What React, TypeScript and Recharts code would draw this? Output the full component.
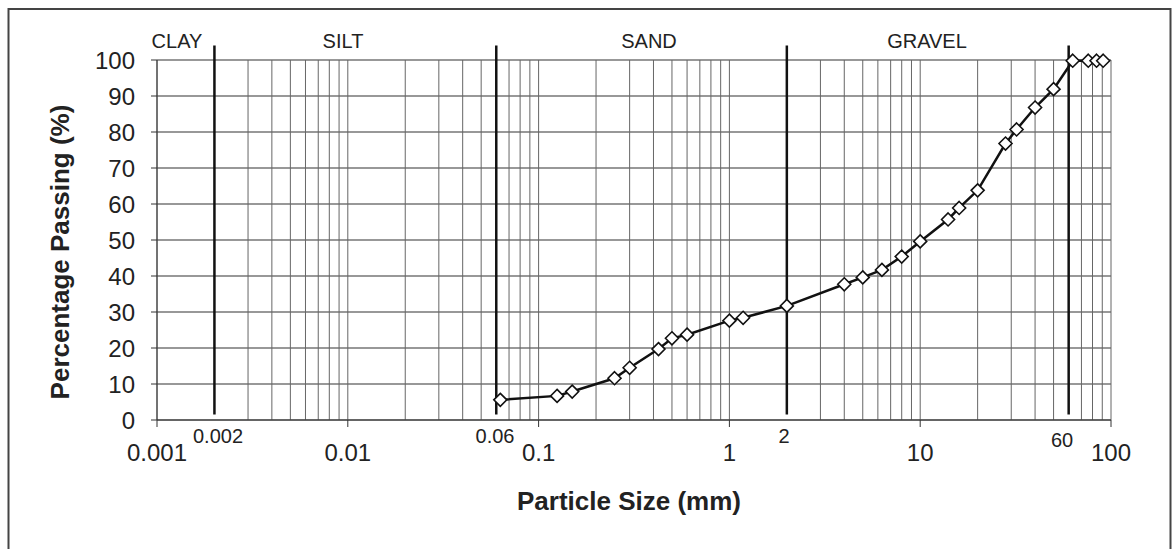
import React from 'react'
import { ComposedChart, Line, XAxis, YAxis, CartesianGrid, ReferenceLine } from 'recharts'

const sieveSizes = [0.063, 0.125, 0.15, 0.25, 0.3, 0.425, 0.5, 0.6, 1.0, 1.18, 2.0, 4.0, 5.0, 6.3, 8.0, 10, 14, 16, 20, 28, 32, 40, 50, 63, 76, 84, 91]
const passing = [5.6, 6.7, 7.9, 11.6, 14.5, 19.7, 22.7, 23.7, 27.6, 28.4, 31.7, 37.7, 39.6, 41.7, 45.4, 49.6, 55.7, 58.9, 63.8, 76.8, 80.7, 86.8, 91.9, 99.8, 99.8, 99.8, 99.8]

const xTicks = [0.001, 0.01, 0.1, 1, 10, 100]
const yTicks = [0, 10, 20, 30, 40, 50, 60, 70, 80, 90, 100]
const decades = [0.001, 0.01, 0.1, 1, 10]
const multipliers = [1, 2, 3, 4, 5, 6, 7, 8, 9]
const boundaries = [0.002, 0.06, 2, 60]
const boundaryLabels = ['0.002', '0.06', '2', '60']
const soilClasses = ['CLAY', 'SILT', 'SAND', 'GRAVEL']

const minorGrid = [...decades.flatMap((d) => multipliers.map((m) => +(d * m).toPrecision(3))), 100].filter(
  (v) => !boundaries.includes(v)
)

const data = sieveSizes.map((size, i) => ({ size, passing: passing[i] }))

const FONT = "Arial, 'Liberation Sans', Helvetica, sans-serif"

const Diamond = (props: any) => {
  const { cx, cy, index } = props
  if (cx == null || cy == null) return null
  const r = 6.5
  return (
    <polygon
      key={`d-${index}`}
      points={`${cx},${cy - r} ${cx + r},${cy} ${cx},${cy + r} ${cx - r},${cy}`}
      fill="#fff"
      stroke="#111"
      strokeWidth={1.6}
    />
  )
}

export default function App() {
  const classX = [177, 343, 649, 927]
  const boundaryPos = [
    [218, 436],
    [495, 436],
    [784, 436],
    [1062, 440],
  ]
  return (
    <div style={{ position: 'absolute', left: 0, top: 0, width: 1173, height: 549, background: '#fff', fontFamily: FONT }}>
      <ComposedChart width={1173} height={549} data={data} margin={{ top: 60, right: 62, left: 8, bottom: 0 }}>
        <CartesianGrid vertical={false} stroke="#333" strokeWidth={1.2} />
        {minorGrid.map((v) => (
          <ReferenceLine key={`g-${v}`} x={v} stroke="#666" strokeWidth={1} />
        ))}
        {boundaries.map((v) => (
          <ReferenceLine
            key={`b-${v}`}
            segment={[
              { x: v, y: 1.5 },
              { x: v, y: 104 },
            ]}
            ifOverflow="visible"
            stroke="#111"
            strokeWidth={2.5}
          />
        ))}
        <XAxis
          dataKey="size"
          type="number"
          scale="log"
          domain={[0.001, 100]}
          ticks={xTicks}
          height={129}
          tickSize={7}
          tickMargin={17}
          tickFormatter={(v: number) => String(v)}
          tick={{ fill: '#222', fontSize: 24, fontFamily: FONT }}
          tickLine={{ stroke: '#333' }}
          axisLine={{ stroke: '#333', strokeWidth: 1.2 }}
        />
        <YAxis
          type="number"
          domain={[0, 100]}
          ticks={yTicks}
          width={149}
          tickSize={6}
          tickMargin={16}
          tick={{ fill: '#222', fontSize: 24, fontFamily: FONT }}
          tickLine={{ stroke: '#333' }}
          axisLine={{ stroke: '#333' }}
        />
        <Line
          type="linear"
          dataKey="passing"
          stroke="#111"
          strokeWidth={2.5}
          dot={Diamond}
          activeDot={false}
          isAnimationActive={false}
        />
      </ComposedChart>
      <svg width={1173} height={549} style={{ position: 'absolute', left: 0, top: 0, pointerEvents: 'none' }}>
        <rect x={8.5} y={9} width={1162} height={545} fill="none" stroke="#444" strokeWidth={2} />
        {soilClasses.map((c, i) => (
          <text key={c} x={classX[i]} y={41} dy="0.36em" textAnchor="middle" fontSize={20} fill="#222" fontFamily={FONT}>
            {c}
          </text>
        ))}
        {boundaryLabels.map((b, i) => (
          <text key={b} x={boundaryPos[i][0]} y={boundaryPos[i][1]} dy="0.36em" textAnchor="middle" fontSize={20} fill="#222" fontFamily={FONT}>
            {b}
          </text>
        ))}
        <text x={629} y={501} dy="0.36em" textAnchor="middle" fontSize={26} fontWeight="bold" fill="#222" fontFamily={FONT}>
          Particle Size (mm)
        </text>
        <text
          x={60}
          y={252}
          dy="0.36em"
          textAnchor="middle"
          fontSize={26}
          fontWeight="bold"
          fill="#222"
          fontFamily={FONT}
          transform="rotate(-90 60 252)"
        >
          Percentage Passing (%)
        </text>
      </svg>
    </div>
  )
}
